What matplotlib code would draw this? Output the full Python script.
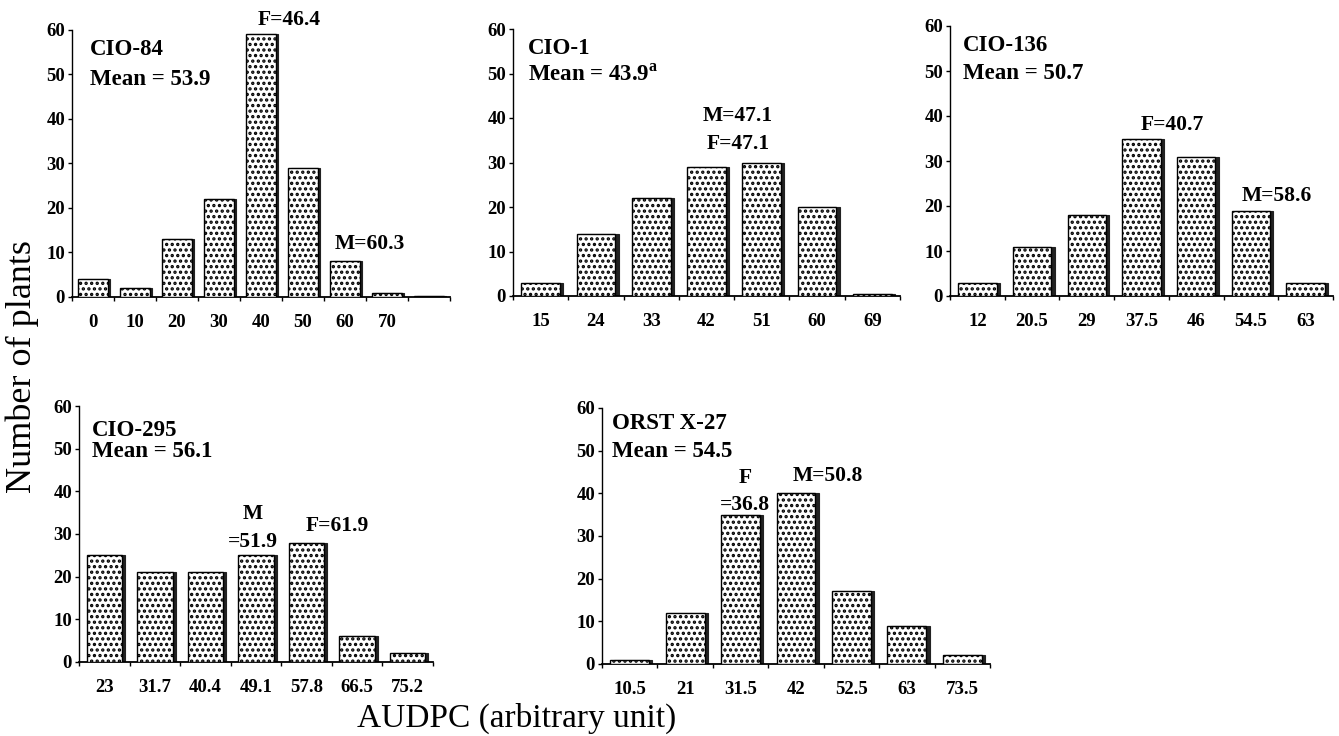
import matplotlib
matplotlib.use("Agg")
import matplotlib.pyplot as plt
import numpy as np

plt.rcParams['font.family'] = ['Liberation Serif', 'DejaVu Serif']
plt.rcParams['hatch.linewidth'] = 1.6
plt.rcParams['hatch.color'] = 'black'

# ---------------- data ----------------
cio84_labels = ['0', '10', '20', '30', '40', '50', '60', '70', '']
cio84_counts = [4, 2, 13, 22, 59, 29, 8, 1, 0.3]

cio1_labels = ['15', '24', '33', '42', '51', '60', '69']
cio1_counts = [3, 14, 22, 29, 30, 20, 0.5]

cio136_labels = ['12', '20.5', '29', '37.5', '46', '54.5', '63']
cio136_counts = [3, 11, 18, 35, 31, 19, 3]

cio295_labels = ['23', '31.7', '40.4', '49.1', '57.8', '66.5', '75.2']
cio295_counts = [25, 21, 21, 25, 28, 6, 2]

orst_labels = ['10.5', '21', '31.5', '42', '52.5', '63', '73.5']
orst_counts = [1, 12, 35, 40, 17, 9, 2]

y_ticks = [0, 10, 20, 30, 40, 50, 60]

W, H = 1339, 736
fig = plt.figure(figsize=(W / 100, H / 100), dpi=100)


def px_axes(l, r, t, b):
    return fig.add_axes([l / W, 1 - b / H, (r - l) / W, (b - t) / H])


def draw_panel(ax, labels, counts, name, mean, notes):
    n = len(labels)
    x = np.arange(n)
    w = 0.7
    ax.bar(x + 0.06, counts, width=w, color='#222222', edgecolor='#222222',
           linewidth=0.8, zorder=2)
    ax.bar(x, counts, width=w, color='white', edgecolor='black',
           linewidth=1.0, hatch='...', zorder=3)
    ax.set_xlim(-0.5, n - 0.5)
    ax.set_ylim(0, 60)
    ax.set_yticks(y_ticks)
    ax.set_yticklabels([str(v) for v in y_ticks], fontsize=13.5, fontweight='bold')
    ax.set_xticks(x)
    ax.set_xticklabels(labels, fontsize=13.5, fontweight='bold')
    ax.set_xticks(np.arange(n + 1) - 0.5, minor=True)
    ax.tick_params(axis='x', which='major', length=0, pad=12)
    ax.tick_params(axis='x', which='minor', length=3, direction='out', width=1)
    ax.tick_params(axis='y', length=3, width=1, direction='out', pad=2)
    for s in ['top', 'right']:
        ax.spines[s].set_visible(False)
    ax.spines['left'].set_linewidth(1.0)
    ax.spines['bottom'].set_linewidth(1.3)
    ax.text(name[1], name[2], name[0], transform=ax.transAxes, fontsize=16.5,
            fontweight='bold', ha='left', va='top')
    ax.text(mean[1], mean[2], mean[0], transform=ax.transAxes, fontsize=16.5,
            fontweight='bold', ha='left', va='top')
    for txt, xx, yy in notes:
        ax.text(xx, yy, txt, fontsize=15.5, fontweight='bold', ha='center',
                va='bottom', zorder=5)


ax1 = px_axes(72, 450, 30, 297)
draw_panel(ax1, cio84_labels, cio84_counts,
           ('CIO-84', 0.048, 0.965), ('Mean = 53.9', 0.048, 0.855),
           [('F=46.4', 4.67, 60), ('M=60.3', 6.6, 9.7)])

ax2 = px_axes(513, 900, 29, 296)
draw_panel(ax2, cio1_labels, cio1_counts,
           ('CIO-1', 0.039, 0.968), ('Mean = 43.9$^\\mathregular{a}$', 0.039, 0.868),
           [('M=47.1', 3.57, 38.3), ('F=47.1', 3.57, 32.0)])

ax3 = px_axes(950, 1333, 26, 296)
draw_panel(ax3, cio136_labels, cio136_counts,
           ('CIO-136', 0.034, 0.968), ('Mean = 50.7', 0.034, 0.862),
           [('F=40.7', 3.56, 35.8), ('M=58.6', 5.48, 20.1)])

ax4 = px_axes(79, 433, 406, 662)
draw_panel(ax4, cio295_labels, cio295_counts,
           ('CIO-295', 0.037, 0.945), ('Mean = 56.1', 0.037, 0.865),
           [('M', 2.94, 32.4), ('=51.9', 2.94, 25.8), ('F=61.9', 4.6, 29.6)])

ax5 = px_axes(602, 990, 408, 664)
draw_panel(ax5, orst_labels, orst_counts,
           ('ORST X-27', 0.026, 0.98), ('Mean = 54.5', 0.026, 0.873),
           [('F', 2.08, 41.3), ('=36.8', 2.08, 35.0), ('M=50.8', 3.58, 41.8)])

fig.text(22 / W, 1 - 367 / H, 'Number of plants', rotation=90, fontsize=26,
         ha='center', va='center')
fig.text(517 / W, 1 - 727 / H, 'AUDPC (arbitrary unit)', fontsize=24,
         ha='center', va='baseline')

fig.savefig('out.png', dpi=100, facecolor='white')
